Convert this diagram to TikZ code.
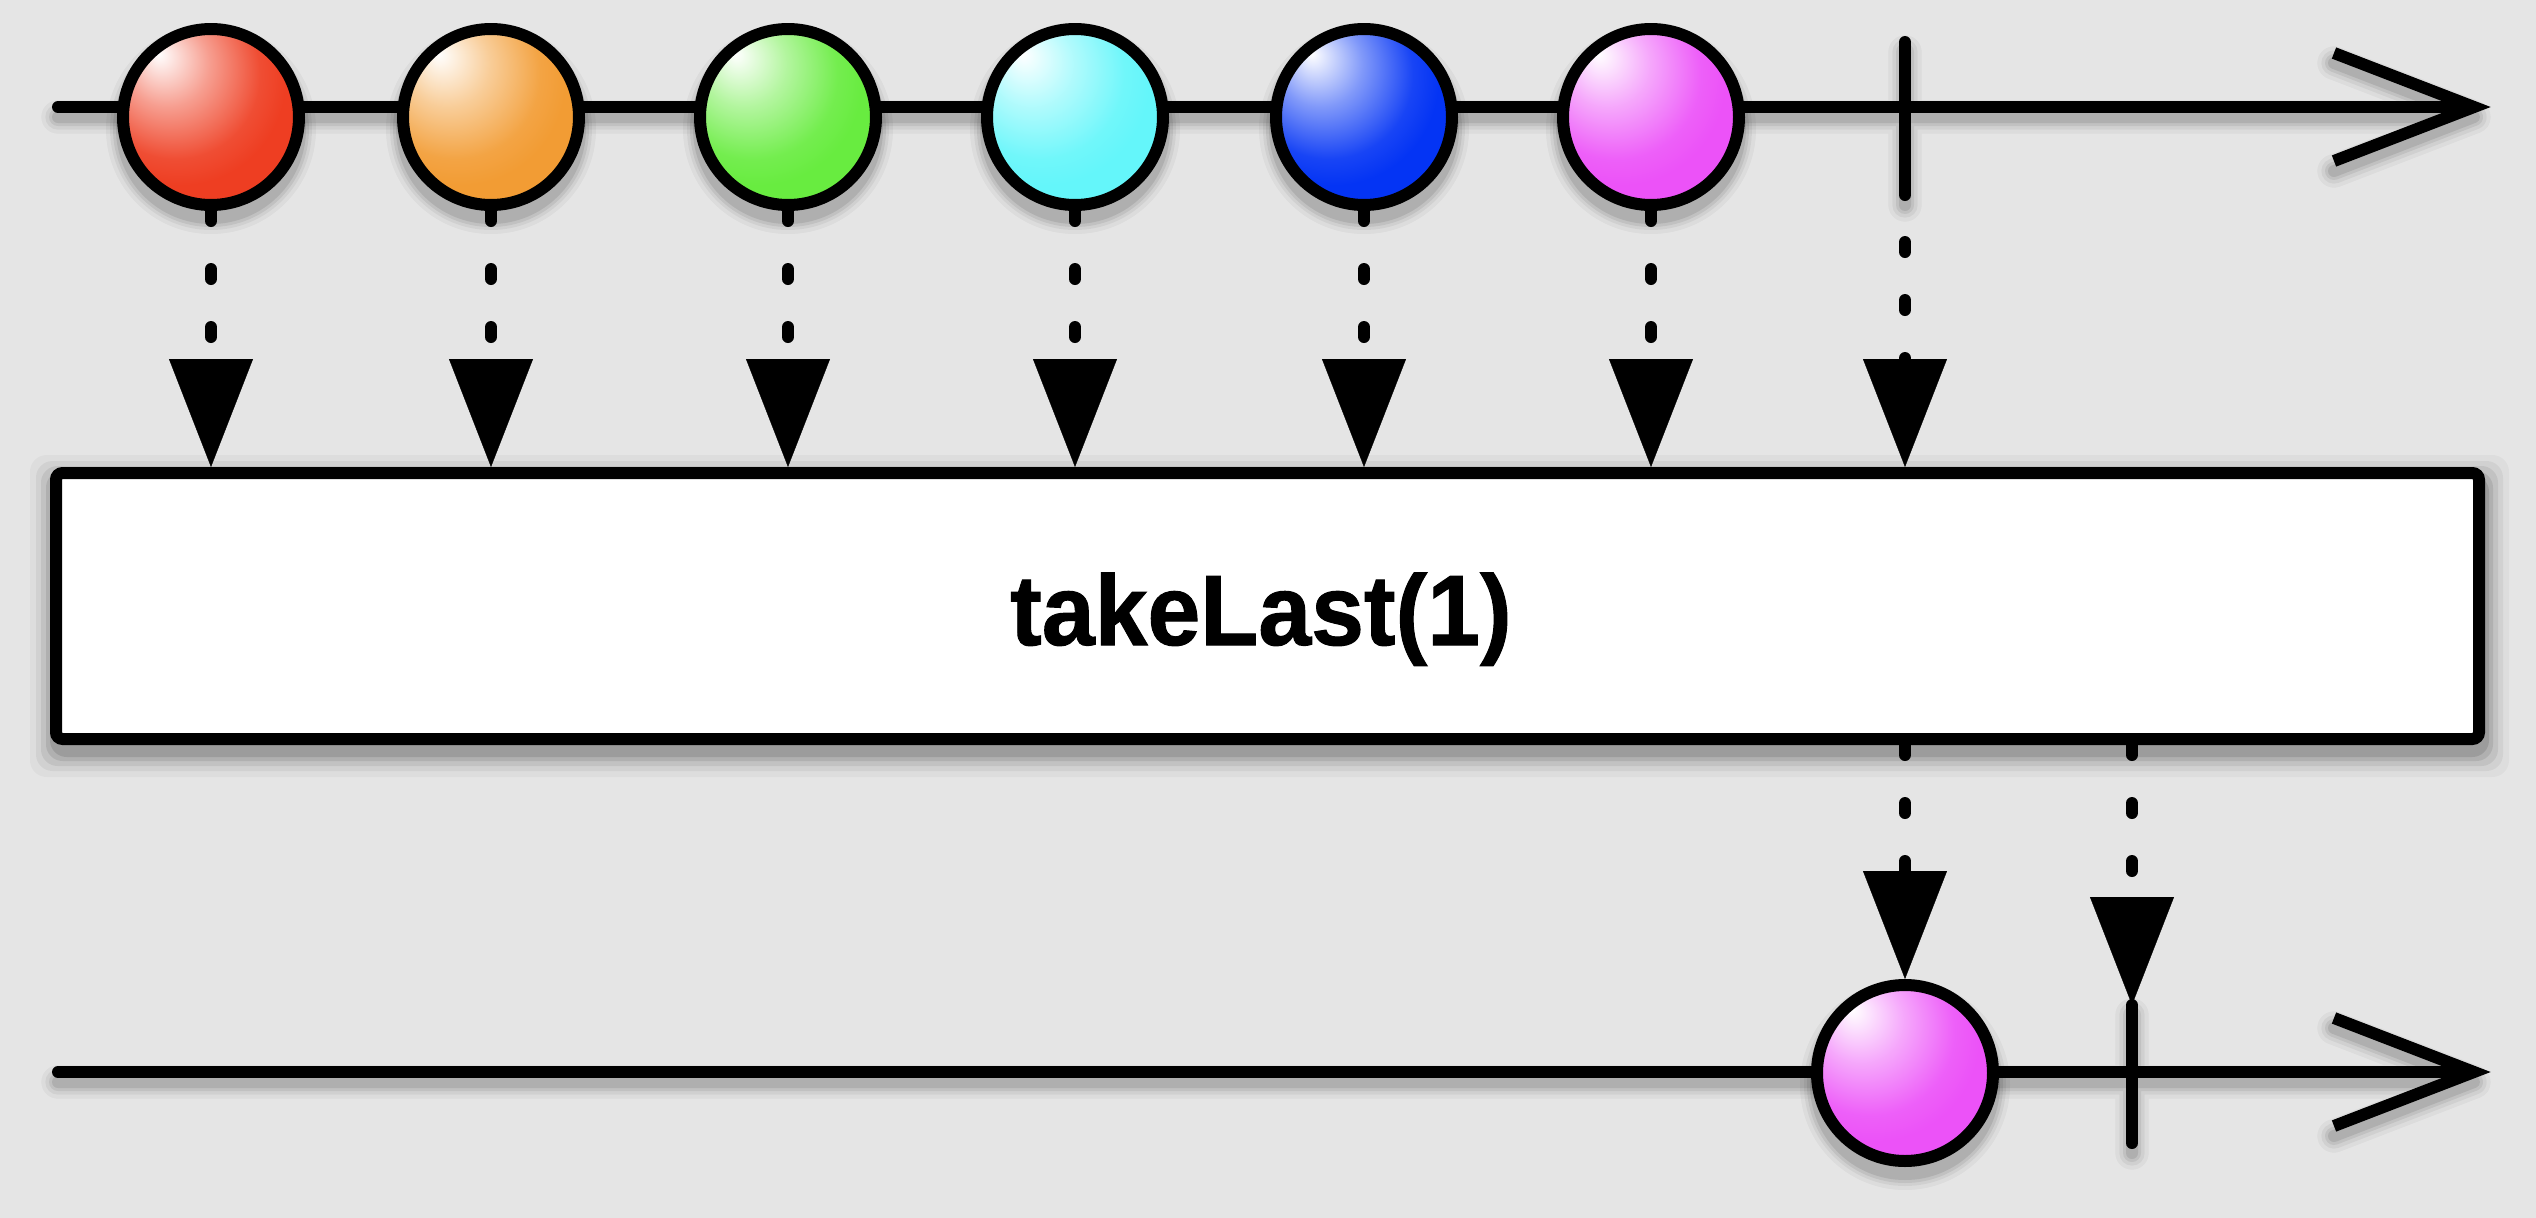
\documentclass[tikz,border=0pt]{standalone}
\usepackage{fontspec}
\setmainfont{Liberation Sans}
\usepackage{graphicx}
\usetikzlibrary{arrows.meta,calc}
\definecolor{bg}{RGB}{229,229,229}
\definecolor{cred}{RGB}{238,62,34}
\definecolor{corange}{RGB}{242,156,52}
\definecolor{cgreen}{RGB}{104,236,64}
\definecolor{ccyan}{RGB}{100,246,250}
\definecolor{cblue}{RGB}{4,52,244}
\definecolor{cmag}{RGB}{236,82,248}
\colorlet{mball}{red}
\pgfdeclareradialshading[mball]{marble}{\pgfpoint{-15bp}{18bp}}{color(0bp)=(white); color(2bp)=(mball!8!white); color(12bp)=(mball!50!white); color(24bp)=(mball!92!white); color(30bp)=(mball); color(54bp)=(mball); color(64bp)=(mball!80!black); color(73bp)=(mball!55!black)}
\tikzset{
  setball/.code={\colorlet{mball}{#1}},
  ball/.style={circle, draw=black, line width=3.6pt, minimum size=52.8pt, inner sep=0pt, shading=marble},
  opbox/.style={draw=black, line width=3.6pt, fill=white, rounded corners=2pt, minimum width=726.9pt, minimum height=79.8pt, inner sep=0pt},
  axis/.style={line width=3.6pt, line cap=round, miter limit=20},
  tickline/.style={line width=3.6pt, line cap=round},
  flow/.style={line width=3.6pt, line cap=round, dash pattern=on 3pt off 14.4pt, -{Triangle[length=32.4pt,width=25.2pt,line width=0.1pt]}},
  lbl/.style={font=\bfseries\fontsize{30}{32}\selectfont\addfontfeature{FakeBold=1}, anchor=base, inner sep=0pt}
}
\begin{document}
\begin{tikzpicture}[x=0.3pt,y=-0.3pt]
\fill[bg] (0,0) rectangle (2536,1218);
\useasboundingbox (0,0) rectangle (2536,1218);
% soft shadows
\begin{scope}[shift={(0,10)}, line cap=round, line join=round]
  \foreach \lw/\op in {10pt/0.04,7.6pt/0.05,5.4pt/0.07,3.6pt/0.09} {
    \draw[line width=\lw, draw opacity=\op] (58,107) -- (2470,107) (2334,53) -- (2474,107) -- (2334,161) (1905,42) -- (1905,195);
    \draw[line width=\lw, draw opacity=\op] (58,1072) -- (2470,1072) (2334,1018) -- (2474,1072) -- (2334,1126) (2132,1005) -- (2132,1143);
  }
  \foreach \x in {211,491,788,1075,1364,1651} {
    \foreach \r/\op in {105/0.04,101/0.05,98/0.07,95/0.09} { \fill[opacity=\op] (\x,119) circle (\r); }
  }
  \foreach \r/\op in {105/0.04,101/0.05,98/0.07,95/0.09} { \fill[opacity=\op] (1905,1075) circle (\r); }
\end{scope}
\begin{scope}[shift={(2,10)}]
  \foreach \k/\op in {22/0.03,16/0.05,11/0.07,6/0.09,2/0.11} {
    \fill[opacity=\op, rounded corners=5pt] (50-\k,467-\k) rectangle (2485+\k,745+\k);
  }
\end{scope}
% timelines
\draw[axis] (58,107) -- (2470,107);
\draw[axis, line cap=butt, line join=miter] (2334,53) -- (2474,107) -- (2334,161);
\draw[axis] (58,1072) -- (2470,1072);
\draw[axis, line cap=butt, line join=miter] (2334,1018) -- (2474,1072) -- (2334,1126);
\coordinate (t1top) at (1905,42);
\coordinate (t1bot) at (1905,195);
\coordinate (t2top) at (2132,1005);
\coordinate (t2bot) at (2132,1143);
\draw[tickline] (t1top) -- (t1bot);
\draw[tickline] (t2top) -- (t2bot);
% operator box
\node[opbox] (op) at (1267.5,606) {};
\node[lbl] (oplabel) at (1261,645) {\scalebox{0.95}[1]{takeLast(1)}};
% marbles
\node[ball, setball=cred] (a) at (211,117) {};
\node[ball, setball=corange] (b) at (491,117) {};
\node[ball, setball=cgreen] (c) at (788,117) {};
\node[ball, setball=ccyan] (d) at (1075,117) {};
\node[ball, setball=cblue] (e) at (1364,117) {};
\node[ball, setball=cmag] (f) at (1651,117) {};
\node[ball, setball=cmag] (g) at (1905,1073) {};
% connectors
\foreach \n in {a,b,c,d,e,f} { \draw[flow] (\n.south) -- (\n.south |- op.north); }
\draw[flow, dash phase=3.3pt] (t1bot) -- (t1bot |- op.north);
\draw[flow] (op.south -| g.north) -- (g.north);
\draw[flow] (op.south -| t2top) -- (t2top);
\end{tikzpicture}
\end{document}
